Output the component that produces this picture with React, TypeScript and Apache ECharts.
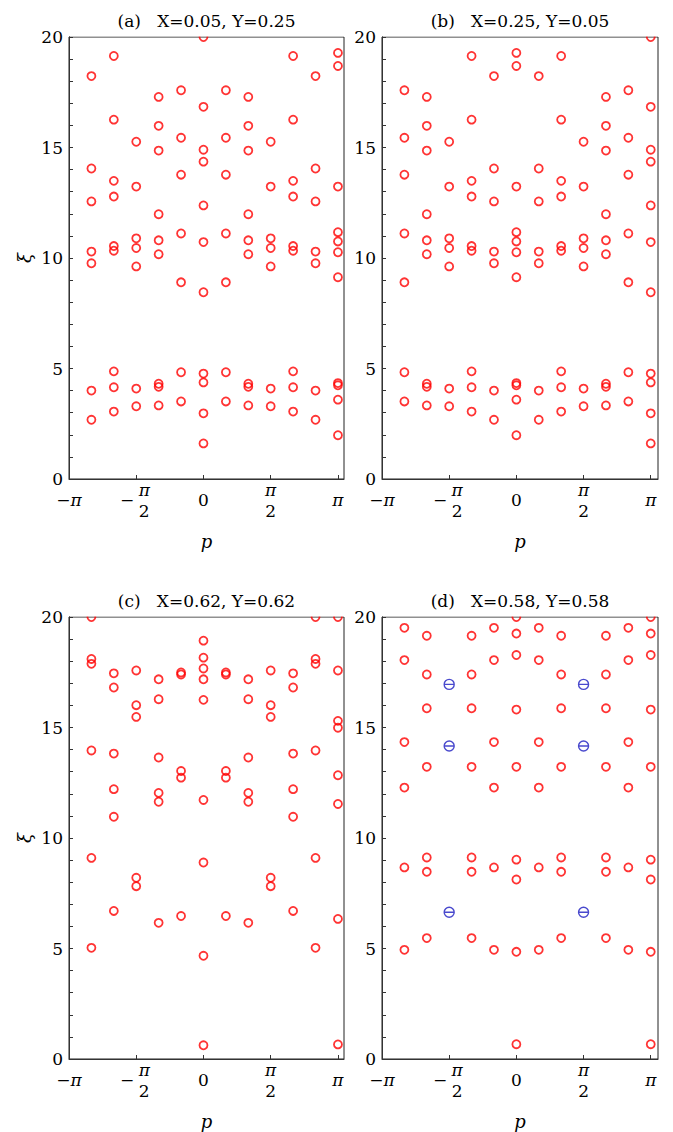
import React, { useEffect, useRef } from 'react';
import * as echarts from 'echarts';

const PI = Math.PI;

// momentum p = k·π/6
const momentumSteps = [-5, -4, -3, -2, -1, 0, 1, 2, 3, 4, 5, 6];

const panelTitles = [
  '(a)   X=0.05, Y=0.25',
  '(b)   X=0.25, Y=0.05',
  '(c)   X=0.62, Y=0.62',
  '(d)   X=0.58, Y=0.58',
];

// ξ levels per momentum column (k = -5 … 6)
const spectrumA: number[][] = [
  [18.23, 14.05, 12.56, 10.29, 9.76, 4.0, 2.68],
  [19.14, 16.26, 13.49, 12.78, 10.54, 10.33, 4.87, 4.15, 3.05],
  [15.26, 13.23, 10.89, 10.45, 9.62, 4.09, 3.29],
  [17.29, 15.98, 14.86, 11.98, 10.8, 10.17, 4.31, 4.17, 3.33],
  [17.59, 15.44, 13.77, 11.11, 8.9, 4.83, 3.51],
  [20.0, 16.84, 14.9, 14.36, 12.38, 10.72, 8.45, 4.77, 4.37, 2.97, 1.61],
  [17.59, 15.44, 13.77, 11.11, 8.9, 4.83, 3.51],
  [17.29, 15.98, 14.86, 11.98, 10.8, 10.17, 4.31, 4.17, 3.33],
  [15.26, 13.23, 10.89, 10.45, 9.62, 4.09, 3.29],
  [19.14, 16.26, 13.49, 12.78, 10.54, 10.33, 4.87, 4.15, 3.05],
  [18.23, 14.05, 12.56, 10.29, 9.76, 4.0, 2.68],
  [19.28, 18.69, 13.23, 11.17, 10.75, 10.26, 9.13, 4.34, 4.24, 3.59, 1.98],
];

const spectrumB: number[][] = [
  [17.59, 15.44, 13.77, 11.11, 8.9, 4.83, 3.51],
  [17.29, 15.98, 14.86, 11.98, 10.8, 10.17, 4.31, 4.17, 3.33],
  [15.26, 13.23, 10.89, 10.45, 9.62, 4.09, 3.29],
  [19.14, 16.26, 13.49, 12.78, 10.54, 10.33, 4.87, 4.15, 3.05],
  [18.23, 14.05, 12.56, 10.29, 9.76, 4.0, 2.68],
  [19.28, 18.69, 13.23, 11.17, 10.75, 10.26, 9.13, 4.34, 4.24, 3.59, 1.98],
  [18.23, 14.05, 12.56, 10.29, 9.76, 4.0, 2.68],
  [19.14, 16.26, 13.49, 12.78, 10.54, 10.33, 4.87, 4.15, 3.05],
  [15.26, 13.23, 10.89, 10.45, 9.62, 4.09, 3.29],
  [17.29, 15.98, 14.86, 11.98, 10.8, 10.17, 4.31, 4.17, 3.33],
  [17.59, 15.44, 13.77, 11.11, 8.9, 4.83, 3.51],
  [20.0, 16.84, 14.9, 14.36, 12.38, 10.72, 8.45, 4.77, 4.37, 2.97, 1.61],
];

const spectrumC: number[][] = [
  [20.0, 18.1, 17.88, 13.96, 9.1, 5.03],
  [17.45, 16.81, 13.82, 12.21, 10.96, 6.7],
  [17.58, 16.01, 15.48, 8.2, 7.82],
  [17.18, 16.28, 13.64, 12.04, 11.64, 6.16],
  [17.49, 17.4, 13.03, 12.73, 6.47],
  [18.93, 18.16, 17.67, 17.18, 16.25, 11.72, 8.89, 4.67, 0.62],
  [17.49, 17.4, 13.03, 12.73, 6.47],
  [17.18, 16.28, 13.64, 12.04, 11.64, 6.16],
  [17.58, 16.01, 15.48, 8.2, 7.82],
  [17.45, 16.81, 13.82, 12.21, 10.96, 6.7],
  [20.0, 18.1, 17.88, 13.96, 9.1, 5.03],
  [20.0, 17.58, 15.3, 14.99, 12.84, 11.54, 6.34, 0.66],
];

const spectrumD: number[][] = [
  [19.51, 18.05, 14.34, 12.28, 8.67, 4.94],
  [19.15, 17.4, 15.87, 13.22, 9.12, 8.47, 5.47],
  [],
  [19.15, 17.4, 15.87, 13.22, 9.12, 8.47, 5.47],
  [19.51, 18.05, 14.34, 12.28, 8.67, 4.94],
  [20.0, 19.25, 18.28, 15.81, 13.22, 9.02, 8.12, 4.85, 0.67],
  [19.51, 18.05, 14.34, 12.28, 8.67, 4.94],
  [19.15, 17.4, 15.87, 13.22, 9.12, 8.47, 5.47],
  [],
  [19.15, 17.4, 15.87, 13.22, 9.12, 8.47, 5.47],
  [19.51, 18.05, 14.34, 12.28, 8.67, 4.94],
  [20.0, 19.25, 18.28, 15.81, 13.22, 9.02, 8.12, 4.85, 0.67],
];

// special (blue) states in panel (d)
const blueStepsD = [-3, 3];
const blueLevelsD = [16.95, 14.16, 6.64];

const spectra = [spectrumA, spectrumB, spectrumC, spectrumD];

const xTickValues = [-PI / 2, 0, PI / 2, PI];
const xLabelValues = [-PI, -PI / 2, 0, PI / 2, PI];

const serif = 'DejaVu Serif';

const panels = [
  { left: 69, top: 37, width: 275, height: 442, xMax: PI * 1.045, titleX: 206.5, titleY: 12, yName: 'ξ' },
  { left: 382, top: 37, width: 276, height: 442, xMax: PI * 1.054, titleX: 520, titleY: 12, yName: '' },
  { left: 69, top: 617, width: 275, height: 442, xMax: PI * 1.045, titleX: 206.5, titleY: 592, yName: 'ξ' },
  { left: 382, top: 617, width: 276, height: 442, xMax: PI * 1.054, titleX: 520, titleY: 592, yName: '' },
];

const near = (a: number, b: number) => Math.abs(a - b) < 1e-6;

const rich = {
  n: { fontFamily: serif, fontSize: 17, lineHeight: 42, color: '#000' },
  ni: { fontFamily: serif, fontSize: 17, lineHeight: 42, color: '#000', fontStyle: 'italic' },
  f: { fontFamily: serif, fontSize: 17, lineHeight: 21, color: '#000', fontStyle: 'italic' },
  f2: { fontFamily: serif, fontSize: 17, lineHeight: 21, color: '#000' },
  fl: { fontFamily: serif, fontSize: 17, lineHeight: 21, color: '#000', fontStyle: 'italic', padding: [0, 0, 0, 16] },
  fl2: { fontFamily: serif, fontSize: 17, lineHeight: 21, color: '#000', padding: [0, 0, 0, 16] },
  m: { fontFamily: serif, fontSize: 17, lineHeight: 42, color: '#000', padding: [0, 18, 0, 0] },
};

function xLabel(v: number): string {
  if (near(v, -PI)) return '{n|−}{ni|π}';
  if (near(v, -PI / 2)) return '{fl|π}\n{fl2|2}';
  if (near(v, 0)) return '{n|0}';
  if (near(v, PI / 2)) return '{f|π}\n{f2|2}';
  if (near(v, PI)) return '{ni|π}';
  return '';
}

function pointsOf(levels: number[][]): number[][] {
  const out: number[][] = [];
  momentumSteps.forEach((k, i) => {
    levels[i].forEach((v) => out.push([(k * PI) / 6, v]));
  });
  return out;
}

export default function App() {
  const ref = useRef<HTMLDivElement>(null);

  useEffect(() => {
    if (!ref.current) return;
    const chart = echarts.init(ref.current, null, { renderer: 'svg' });

    const grid = panels.map((p) => ({
      left: p.left,
      top: p.top,
      width: p.width,
      height: p.height,
      show: true,
      borderColor: '#222',
      borderWidth: 1,
      backgroundColor: 'transparent',
      containLabel: false,
    }));

    const xAxis: any[] = [];
    const yAxis: any[] = [];
    panels.forEach((p, i) => {
      xAxis.push({
        type: 'value',
        gridIndex: i,
        min: -PI,
        max: p.xMax,
        position: 'bottom',
        axisLine: { show: true, onZero: false, lineStyle: { color: '#333', width: 1 } },
        axisTick: { show: true, inside: true, length: 4, customValues: xTickValues, lineStyle: { color: '#333' } },
        axisLabel: { show: true, margin: 0, customValues: xLabelValues, formatter: xLabel, rich },
        splitLine: { show: false },
        name: 'p',
        nameLocation: 'middle',
        nameGap: 53,
        nameTextStyle: { fontFamily: serif, fontStyle: 'italic', fontSize: 18, color: '#000' },
      });
      xAxis.push({
        type: 'value',
        gridIndex: i,
        min: -PI,
        max: p.xMax,
        position: 'bottom',
        axisLine: { show: false, onZero: false },
        axisTick: { show: false },
        splitLine: { show: false },
        axisLabel: { show: true, margin: 0, customValues: [-PI / 2], formatter: () => '{m|−}', rich },
      });
      yAxis.push({
        type: 'value',
        gridIndex: i,
        min: 0,
        max: 20,
        interval: 5,
        position: 'left',
        axisLine: { show: true, onZero: false, lineStyle: { color: '#333', width: 1 } },
        axisTick: { show: true, inside: true, length: 4, lineStyle: { color: '#333' } },
        minorTick: { show: true, splitNumber: 5, length: 4, lineStyle: { color: '#333' } },
        splitLine: { show: false },
        minorSplitLine: { show: false },
        axisLabel: { margin: 6, fontFamily: serif, fontSize: 17, color: '#000' },
        name: p.yName,
        nameLocation: 'middle',
        nameGap: 36,
        nameRotate: 90,
        nameTextStyle: { fontFamily: serif, fontStyle: 'italic', fontSize: 18, color: '#000' },
      });
    });

    const series: any[] = spectra.map((lv, i) => ({
      type: 'scatter',
      xAxisIndex: 2 * i,
      yAxisIndex: i,
      data: pointsOf(lv),
      symbol: 'circle',
      symbolSize: 8,
      clip: true,
      silent: true,
      itemStyle: { color: 'rgba(0,0,0,0)', borderColor: '#ff0000', borderWidth: 1.8 },
    }));

    const blueData: number[][] = [];
    blueStepsD.forEach((k) => blueLevelsD.forEach((v) => blueData.push([(k * PI) / 6, v])));
    series.push({
      type: 'scatter',
      xAxisIndex: 6,
      yAxisIndex: 3,
      data: blueData,
      symbol: 'path://M0 -10 A10 10 0 1 1 0 10 A10 10 0 1 1 0 -10 Z M-10 0 L10 0',
      symbolSize: 10,
      clip: true,
      silent: true,
      itemStyle: { color: 'rgba(0,0,0,0)', borderColor: '#1c1cc0', borderWidth: 1.4 },
    });

    // white masks above each plot frame so markers on the top edge appear clipped
    const masks = panels.map((p) => ({
      type: 'rect',
      silent: true,
      z: 100,
      shape: { x: p.left + 1, y: p.top - 7, width: p.width - 1, height: 6.5 },
      style: { fill: '#fff' },
    }));

    chart.setOption({
      animation: false,
      backgroundColor: '#fff',
      textStyle: { fontFamily: serif },
      title: panels.map((p, i) => ({
        text: panelTitles[i],
        left: p.titleX,
        top: p.titleY,
        textAlign: 'center',
        padding: 0,
        z: 200,
        textStyle: { fontFamily: serif, fontSize: 17, fontWeight: 'normal', color: '#000' },
      })),
      grid,
      xAxis,
      yAxis,
      series,
      graphic: masks,
    });

    return () => chart.dispose();
  }, []);

  return (
    <div
      ref={ref}
      style={{ position: 'fixed', left: 0, top: 0, width: 673, height: 1132, background: '#fff' }}
    />
  );
}
